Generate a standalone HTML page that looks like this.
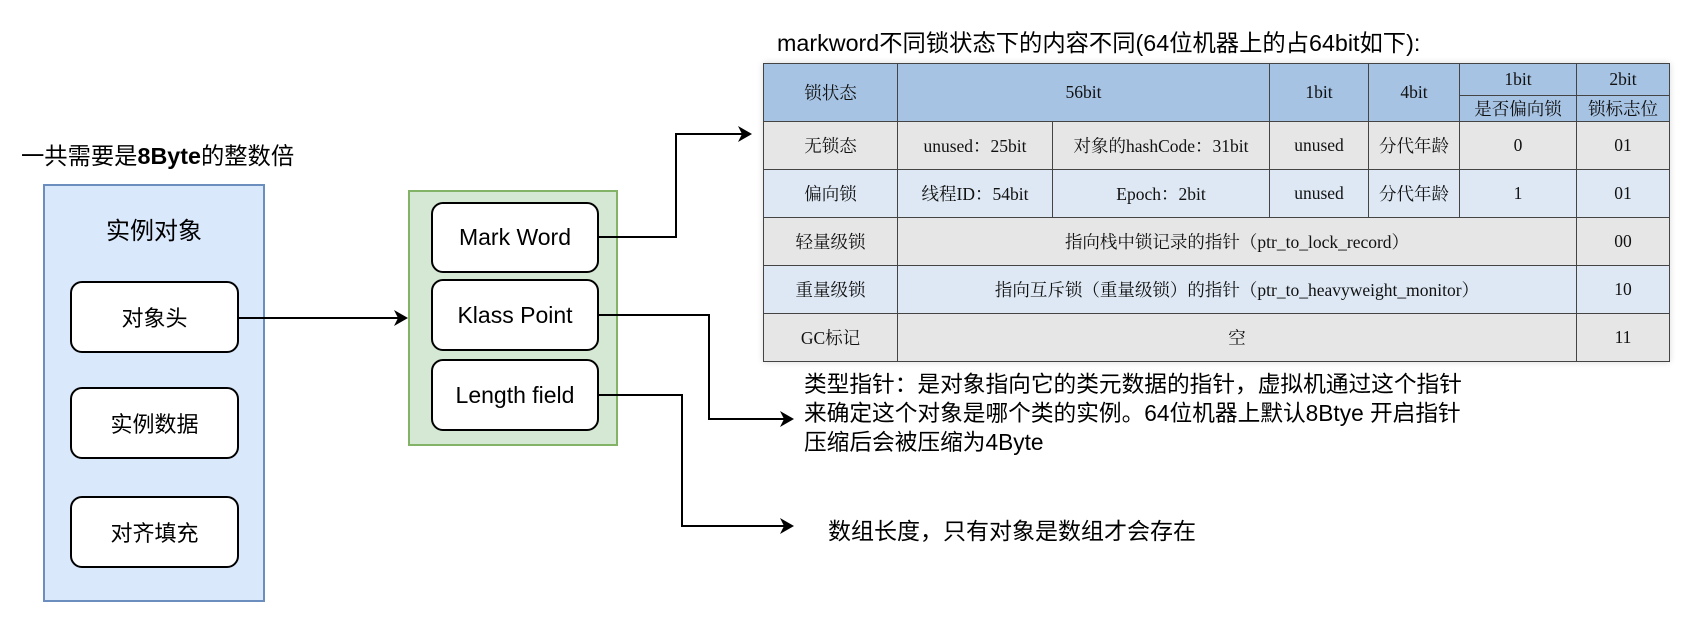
<!DOCTYPE html>
<html><head><meta charset="utf-8"><style>
body{margin:0;width:1693px;height:629px;background:#fff;position:relative;overflow:hidden;font-family:"Liberation Sans","Noto Sans CJK SC",sans-serif;}
.a{position:absolute;box-sizing:border-box;}
.rb{background:#fff;border:2px solid #000;border-radius:12px;display:flex;align-items:center;justify-content:center;font-size:22px;}
.en{font-size:23px;}
table{position:absolute;left:763px;top:63px;border-collapse:collapse;table-layout:fixed;font-family:"Liberation Serif","Noto Serif CJK SC",serif;font-size:17.5px;color:#111;box-shadow:0 0 6px rgba(0,0,0,0.15);}
td{border:1px solid #444;text-align:center;padding:0;white-space:nowrap;}
.h td{background:#a6c3e4;}
.g td{background:#e6e6e6;height:47px;}
.b td{background:#dde8f4;height:47px;}
</style></head><body>
<div class="a" style="left:21px;top:137px;font-size:23.3px;">一共需要是<b>8Byte</b>的整数倍</div>
<div class="a" style="left:43px;top:184px;width:222px;height:418px;background:#dae8fc;border:2px solid #6c8ebf;"></div>
<div class="a" style="left:43px;top:211px;width:222px;text-align:center;font-size:24px;">实例对象</div>
<div class="a rb" style="left:70px;top:281px;width:169px;height:72px;">对象头</div>
<div class="a rb" style="left:70px;top:387px;width:169px;height:72px;">实例数据</div>
<div class="a rb" style="left:70px;top:496px;width:169px;height:72px;">对齐填充</div>
<div class="a" style="left:408px;top:190px;width:210px;height:256px;background:#d5e8d4;border:2px solid #82b366;"></div>
<div class="a rb en" style="left:431px;top:202px;width:168px;height:71px;">Mark Word</div>
<div class="a rb en" style="left:431px;top:279px;width:168px;height:72px;">Klass Point</div>
<div class="a rb en" style="left:431px;top:359px;width:168px;height:72px;">Length field</div>
<svg class="a" style="left:0;top:0" width="1693" height="629">
<g fill="none" stroke="#000" stroke-width="2">
<path d="M239 318H398"/><path d="M599 237H676V134H742"/><path d="M599 315H709V419H784"/><path d="M599 395H682V526H784"/>
</g>
<g fill="#000">
<path d="M408 318l-14-8 4 8-4 8z"/><path d="M752 134l-14-8 4 8-4 8z"/><path d="M794 419l-14-8 4 8-4 8z"/><path d="M794 526l-14-8 4 8-4 8z"/>
</g>
</svg>
<div class="a" style="left:777px;top:24px;font-size:23.3px;">markword不同锁状态下的内容不同(64位机器上的占64bit如下):</div>
<table>
<colgroup><col style="width:134px"><col style="width:155px"><col style="width:217px"><col style="width:99px"><col style="width:91px"><col style="width:117px"><col style="width:93px"></colgroup>
<tr class="h"><td rowspan="2">锁状态</td><td colspan="2" rowspan="2">56bit</td><td rowspan="2">1bit</td><td rowspan="2">4bit</td><td style="height:31px">1bit</td><td>2bit</td></tr>
<tr class="h"><td style="height:25px">是否偏向锁</td><td>锁标志位</td></tr>
<tr class="g"><td>无锁态</td><td>unused：25bit</td><td>对象的hashCode：31bit</td><td>unused</td><td>分代年龄</td><td>0</td><td>01</td></tr>
<tr class="b"><td>偏向锁</td><td>线程ID：54bit</td><td>Epoch：2bit</td><td>unused</td><td>分代年龄</td><td>1</td><td>01</td></tr>
<tr class="g"><td>轻量级锁</td><td colspan="5">指向栈中锁记录的指针（ptr_to_lock_record）</td><td>00</td></tr>
<tr class="b"><td>重量级锁</td><td colspan="5">指向互斥锁（重量级锁）的指针（ptr_to_heavyweight_monitor）</td><td>10</td></tr>
<tr class="g"><td>GC标记</td><td colspan="5">空</td><td>11</td></tr>
</table>
<div class="a" style="left:804px;top:370px;font-size:22.7px;line-height:29px;">类型指针：是对象指向它的类元数据的指针，虚拟机通过这个指针<br>来确定这个对象是哪个类的实例。64位机器上默认8Btye 开启指针<br>压缩后会被压缩为4Byte</div>
<div class="a" style="left:828px;top:512px;font-size:23px;">数组长度，只有对象是数组才会存在</div>
</body></html>
